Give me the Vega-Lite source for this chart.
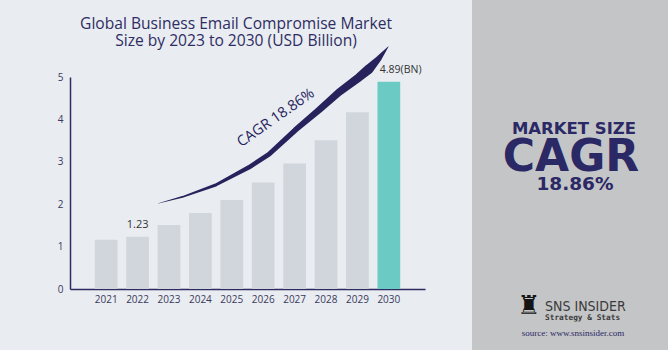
{
  "$schema": "https://vega.github.io/schema/vega-lite/v6.json",
  "background": "#e9ecf1",
  "padding": {"left": 57, "top": 0, "right": 0, "bottom": 0},
  "config": {"view": {"stroke": null}, "font": "Open Sans"},
  "spacing": 47,
  "hconcat": [
    {
      "spacing": 29,
      "bounds": "flush",
      "vconcat": [
        {
          "width": 332,
          "height": 48,
          "data": {"values": [{"t": "Global Business Email Compromise Market\nSize by 2023 to 2030 (USD Billion)"}]},
          "mark": {"type": "text", "lineBreak": "\n", "fontSize": 15.6, "font": "Open Sans", "fontWeight": 500, "color": "#2e2c63", "lineHeight": 17, "baseline": "middle", "align": "center"},
          "encoding": {"text": {"field": "t"}}
        },
        {
          "width": 355,
          "height": 212,
          "resolve": {"scale": {"x": "independent"}},
          "layer": [
            {
              "data": {"values": [
                {"year": "2021", "value": 1.16, "hl": "no", "label": ""},
                {"year": "2022", "value": 1.23, "hl": "no", "label": "1.23"},
                {"year": "2023", "value": 1.51, "hl": "no", "label": ""},
                {"year": "2024", "value": 1.79, "hl": "no", "label": ""},
                {"year": "2025", "value": 2.10, "hl": "no", "label": ""},
                {"year": "2026", "value": 2.51, "hl": "no", "label": ""},
                {"year": "2027", "value": 2.96, "hl": "no", "label": ""},
                {"year": "2028", "value": 3.51, "hl": "no", "label": ""},
                {"year": "2029", "value": 4.17, "hl": "no", "label": ""},
                {"year": "2030", "value": 4.89, "hl": "yes", "label": "4.89(BN)"}
              ]},
              "encoding": {
                "x": {"field": "year", "type": "ordinal", "scale": {"paddingInner": 0.277, "paddingOuter": 0.79},
                  "axis": {"labelAngle": 0, "ticks": false, "title": null, "domainColor": "#2d2b5f", "domainWidth": 1.5, "labelColor": "#3a3a5c", "labelFontSize": 10, "labelPadding": 5, "labelFont": "Open Sans"}},
                "y": {"field": "value", "type": "quantitative", "scale": {"domain": [0, 5]},
                  "axis": {"values": [0, 1, 2, 3, 4, 5], "ticks": false, "grid": false, "title": null, "domainColor": "#2d2b5f", "domainWidth": 1.5, "labelColor": "#3a3a5c", "labelFontSize": 10, "labelPadding": 7, "labelFont": "Open Sans"}}
              },
              "layer": [
                {
                  "mark": {"type": "bar"},
                  "encoding": {
                    "color": {"field": "hl", "type": "nominal", "scale": {"domain": ["no", "yes"], "range": ["#d0d6dc", "#6ccac4"]}, "legend": null}
                  }
                },
                {
                  "transform": [{"filter": "datum.year == '2022'"}],
                  "mark": {"type": "text", "baseline": "bottom", "dy": -7, "fontSize": 11, "color": "#333333", "font": "Open Sans"},
                  "encoding": {"text": {"field": "label"}}
                },
                {
                  "transform": [{"filter": "datum.year == '2030'"}],
                  "mark": {"type": "text", "baseline": "bottom", "align": "left", "dx": -9, "dy": -7, "fontSize": 10.5, "color": "#333333", "font": "Open Sans"},
                  "encoding": {"text": {"field": "label"}}
                }
              ]
            },
            {
              "data": {"values": [
                {"yr": 2022.659, "value": 2.021},
                {"yr": 2023.424, "value": 2.170},
                {"yr": 2024.487, "value": 2.453},
                {"yr": 2025.548, "value": 2.870},
                {"yr": 2026.185, "value": 3.177},
                {"yr": 2027.035, "value": 3.757},
                {"yr": 2027.777, "value": 4.222},
                {"yr": 2028.414, "value": 4.639},
                {"yr": 2029.051, "value": 4.993},
                {"yr": 2029.369, "value": 5.189},
                {"yr": 2029.688, "value": 5.441},
                {"yr": 2029.984, "value": 5.715}
              ]},
              "layer": [
                {
                  "mark": {"type": "trail", "color": "#26235c"},
                  "encoding": {
                    "x": {"field": "yr", "type": "quantitative", "scale": {"domain": [2019.847, 2031.153], "nice": false, "zero": false}, "axis": null},
                    "y": {"field": "value", "type": "quantitative", "scale": {"domain": [0, 5]}, "title": null},
                    "size": {"field": "yr", "type": "quantitative", "scale": {"type": "linear", "domain": [2022.659, 2023.424, 2024.487, 2025.548, 2027.035, 2028.414, 2029.051, 2029.369, 2029.688, 2029.984], "range": [0.3, 1.8, 3, 4.5, 5.5, 7.5, 8.5, 9.5, 5.5, 0.5], "zero": false}, "legend": null}
                  }
                },
                {
                  "transform": [{"filter": "datum.yr == 2022.659"}],
                  "mark": {"type": "text", "text": "CAGR 18.86%", "angle": 325, "fontSize": 14.5, "color": "#26235c", "font": "Open Sans", "baseline": "middle", "align": "center"},
                  "encoding": {
                    "x": {"datum": 2026.41, "type": "quantitative"},
                    "y": {"datum": 4.03, "type": "quantitative"}
                  }
                }
              ]
            }
          ]
        }
      ]
    },
    {
      "spacing": 0,
      "bounds": "flush",
      "data": {"values": [{}]},
      "vconcat": [
        {"width": 196, "height": 116, "view": {"fill": "#c4c5c7"}, "mark": {"type": "text", "text": " "}, "encoding": {}},
        {"width": 196, "height": 26, "view": {"fill": "#c4c5c7"},
          "mark": {"type": "text", "text": "MARKET SIZE", "font": "DejaVu Sans", "fontWeight": "bold", "fontSize": 16.5, "color": "#2a2865", "dx": 4, "baseline": "middle"},
          "encoding": {}},
        {"width": 196, "height": 30, "view": {"fill": "#c4c5c7"},
          "mark": {"type": "text", "text": "CAGR", "font": "DejaVu Sans", "fontWeight": "bold", "fontSize": 44, "color": "#2a2865", "dx": 1, "dy": 1, "baseline": "middle"},
          "encoding": {}},
        {"width": 196, "height": 24, "view": {"fill": "#c4c5c7"},
          "mark": {"type": "text", "text": "18.86%", "font": "DejaVu Sans", "fontWeight": "bold", "fontSize": 18.5, "color": "#2a2865", "dx": 5, "baseline": "middle"},
          "encoding": {}},
        {"width": 196, "height": 98, "view": {"fill": "#c4c5c7"}, "mark": {"type": "text", "text": " "}, "encoding": {}},
        {"width": 196, "height": 28, "view": {"fill": "#c4c5c7"},
          "layer": [
            {"mark": {"type": "text", "text": "♜", "font": "DejaVu Sans", "fontSize": 26, "color": "#151515", "dx": -41, "dy": -2, "baseline": "middle"}, "encoding": {}},
            {"mark": {"type": "text", "text": "SNS INSIDER", "font": "Liberation Sans Narrow, DejaVu Sans Condensed, Roboto", "fontSize": 14, "color": "#3a3a3a", "dx": -25, "dy": -1, "align": "left", "baseline": "middle"}, "encoding": {}},
            {"mark": {"type": "text", "text": "Strategy & Stats", "font": "DejaVu Sans Mono", "fontWeight": "bold", "fontSize": 7.8, "color": "#3a3a3a", "dx": -25, "dy": 9.5, "align": "left", "baseline": "middle"}, "encoding": {}}
          ]
        },
        {"width": 196, "height": 22, "view": {"fill": "#c4c5c7"},
          "mark": {"type": "text", "text": "source: www.snsinsider.com", "font": "Liberation Serif", "fontSize": 9, "color": "#2a2865", "dx": 3, "baseline": "middle"},
          "encoding": {}},
        {"width": 196, "height": 6, "view": {"fill": "#c4c5c7"}, "mark": {"type": "text", "text": " "}, "encoding": {}}
      ]
    }
  ]
}
